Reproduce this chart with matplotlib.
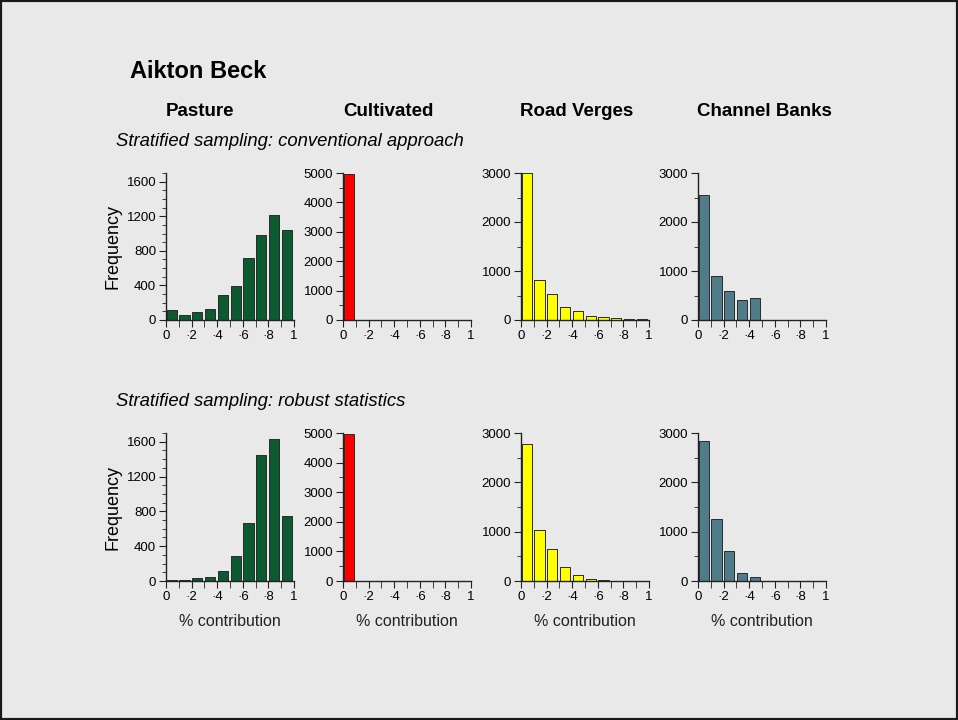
import numpy as np
import matplotlib.pyplot as plt
from matplotlib.ticker import FixedLocator, FixedFormatter, MultipleLocator
from matplotlib.patches import Rectangle

plt.rcParams['font.family'] = ['Liberation Sans', 'DejaVu Sans']

# Bins of fractional contribution (0-0.1, 0.1-0.2, ... 0.9-1)
bin_left = np.arange(10) / 10

sources = ['Pasture', 'Cultivated', 'Road Verges', 'Channel Banks']
colours = ['#0b5a30', '#ff0000', '#ffff00', '#4f7c88']

# Stratified sampling: conventional approach
pasture_conv = [113, 58, 89, 128, 287, 392, 718, 982, 1219, 1037]
cultivated_conv = [4980, 0, 0, 0, 0, 0, 0, 0, 0, 0]
verges_conv = [2993, 810, 537, 272, 177, 88, 61, 41, 20, 25]
banks_conv = [2551, 891, 592, 401, 449, 0, 0, 0, 0, 0]

# Stratified sampling: robust statistics
pasture_rob = [11, 11, 34, 46, 111, 290, 664, 1447, 1626, 752]
cultivated_rob = [4960, 0, 0, 0, 0, 0, 0, 0, 0, 0]
verges_rob = [2778, 1027, 658, 289, 121, 40, 27, 5, 5, 5]
banks_rob = [2838, 1257, 615, 169, 88, 0, 0, 0, 0, 0]

rows = [[pasture_conv, cultivated_conv, verges_conv, banks_conv],
        [pasture_rob, cultivated_rob, verges_rob, banks_rob]]
row_titles = ['Stratified sampling: conventional approach',
              'Stratified sampling: robust statistics']

y_max = [1700, 5000, 3000, 3000]
y_major = [400, 1000, 1000, 1000]
y_minor = [100, 500, 500, 500]

x_ticks = [0, 0.2, 0.4, 0.6, 0.8, 1]
x_labels = ['0', '·2', '·4', '·6', '·8', '1']

fig = plt.figure(figsize=(9.58, 7.2), dpi=100, facecolor='#e9e9e9')

# panel placement in pixels
W, H = 958, 720
lefts = [166, 343, 521, 698]
heading_x = [200, 388, 577, 764]
row_top = [173, 433]
row_bottom = [320, 581]

for r in range(2):
    for c in range(4):
        ax = fig.add_axes([lefts[c] / W, 1 - row_bottom[r] / H,
                           128 / W, (row_bottom[r] - row_top[r]) / H])
        ax.set_facecolor('none')
        ax.bar(bin_left + 0.005, rows[r][c], width=0.08, align='edge',
               color=colours[c], edgecolor='#2a2a2a', linewidth=0.7)
        ax.set_xlim(0, 1)
        ax.set_ylim(0, y_max[c])
        for s in ['top', 'right']:
            ax.spines[s].set_visible(False)
        for s in ['left', 'bottom']:
            ax.spines[s].set_linewidth(1.0)
            ax.spines[s].set_color('#222222')
        ax.xaxis.set_major_locator(FixedLocator(x_ticks))
        ax.xaxis.set_major_formatter(FixedFormatter(x_labels))
        ax.xaxis.set_minor_locator(FixedLocator([0.1, 0.3, 0.5, 0.7, 0.9]))
        ax.yaxis.set_major_locator(MultipleLocator(y_major[c]))
        ax.yaxis.set_minor_locator(MultipleLocator(y_minor[c]))
        ax.tick_params(axis='both', which='both', direction='out',
                       color='#222222', labelsize=9.5, pad=2)
        ax.tick_params(axis='x', which='both', length=5)
        ax.tick_params(axis='y', which='major', length=5)
        ax.tick_params(axis='y', which='minor', length=3)
        if c == 0:
            ax.set_ylabel('Frequency', fontsize=13, labelpad=4)
        if r == 1:
            ax.set_xlabel('% contribution', fontsize=11.5, labelpad=8,
                          color='#222222')

# Headings
fig.text(130 / W, 1 - 72 / H, 'Aikton Beck', fontsize=17, fontweight='bold',
         va='center', ha='left')
for c, name in enumerate(sources):
    fig.text(heading_x[c] / W, 1 - 111 / H, name, fontsize=13.5,
             fontweight='bold', va='center', ha='center')
fig.text(116 / W, 1 - 141 / H, row_titles[0], fontsize=13.3, style='italic',
         va='center', ha='left')
fig.text(116 / W, 1 - 402 / H, row_titles[1], fontsize=13.3, style='italic',
         va='center', ha='left')

# Dark frame round the figure
fig.patches.append(Rectangle((0, 0), 1, 1, transform=fig.transFigure,
                             fill=False, edgecolor='#1a1a1a', linewidth=3))

fig.savefig('out.png', dpi=100, facecolor=fig.get_facecolor())
